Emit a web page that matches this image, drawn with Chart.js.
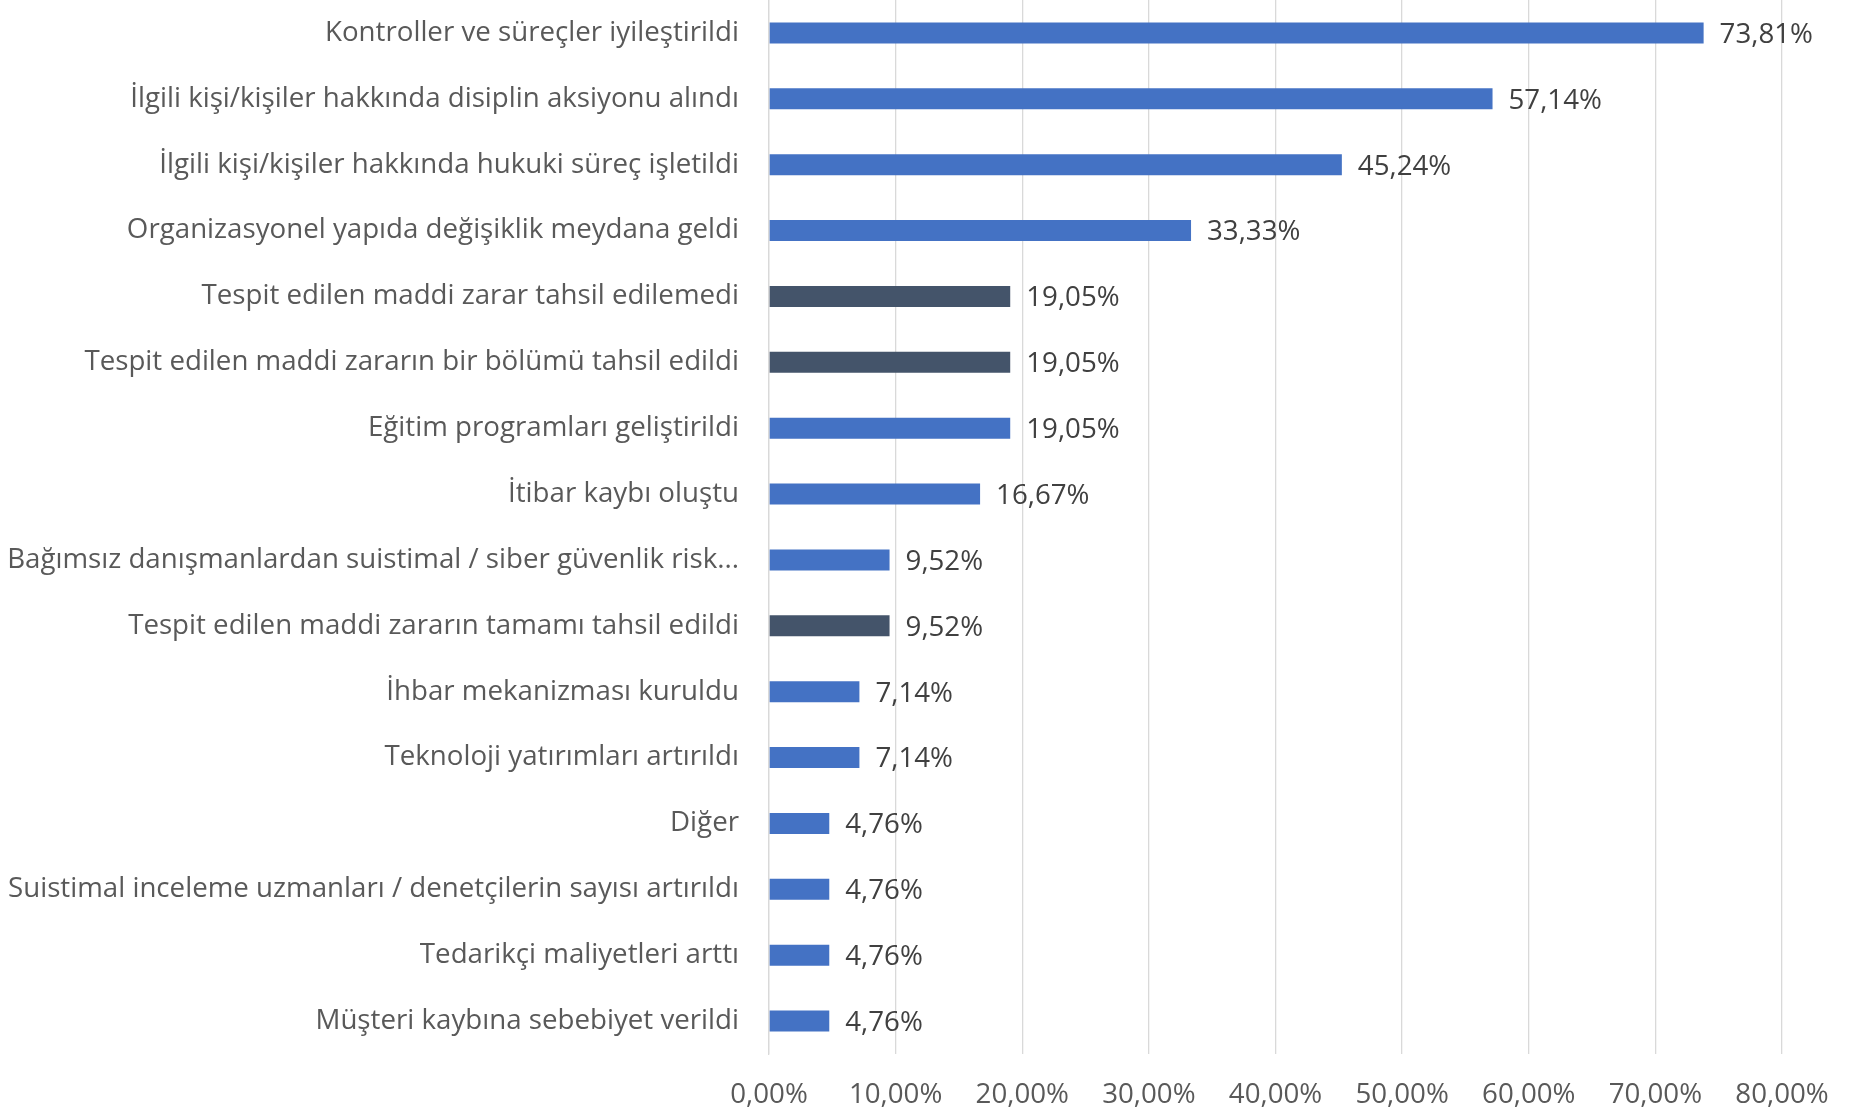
<!DOCTYPE html>
<html>
<head>
<meta charset="utf-8">
<script src="https://cdn.jsdelivr.net/npm/chart.js@4"></script>
<style>
  html, body { margin: 0; padding: 0; background: #fff; }
  #wrap { width: 1858px; height: 1112px; }
</style>
</head>
<body>
<div id="wrap"><canvas id="myChart"></canvas></div>
<script>
const categories = [
  "Kontroller ve süreçler iyileştirildi",
  "İlgili kişi/kişiler hakkında disiplin aksiyonu alındı",
  "İlgili kişi/kişiler hakkında hukuki süreç işletildi",
  "Organizasyonel yapıda değişiklik meydana geldi",
  "Tespit edilen maddi zarar tahsil edilemedi",
  "Tespit edilen maddi zararın bir bölümü tahsil edildi",
  "Eğitim programları geliştirildi",
  "İtibar kaybı oluştu",
  "Bağımsız danışmanlardan suistimal / siber güvenlik risk...",
  "Tespit edilen maddi zararın tamamı tahsil edildi",
  "İhbar mekanizması kuruldu",
  "Teknoloji yatırımları artırıldı",
  "Diğer",
  "Suistimal inceleme uzmanları / denetçilerin sayısı artırıldı",
  "Tedarikçi maliyetleri arttı",
  "Müşteri kaybına sebebiyet verildi"
];
const percentages = [73.81, 57.14, 45.24, 33.33, 19.05, 19.05, 19.05, 16.67, 9.52, 9.52, 7.14, 7.14, 4.76, 4.76, 4.76, 4.76];
// bars about recovered loss are drawn in the darker colour
const darkBars = [false, false, false, false, true, true, false, false, false, true, false, false, false, false, false, false];
const xTicks = [0, 10, 20, 30, 40, 50, 60, 70, 80];

const FONT = "'Open Sans', 'Noto Sans', sans-serif";
const fmt = (v) => v.toFixed(2).replace(".", ",") + "%";

const valueLabels = {
  id: "valueLabels",
  afterDatasetsDraw(chart) {
    const ctx = chart.ctx;
    const meta = chart.getDatasetMeta(0);
    ctx.save();
    ctx.font = "27.7px " + FONT;
    ctx.fillStyle = "#404040";
    ctx.textAlign = "left";
    ctx.textBaseline = "middle";
    meta.data.forEach((bar, i) => {
      ctx.fillText(fmt(percentages[i]), bar.x + 16, bar.y + 2);
    });
    ctx.restore();
  }
};

const ctx = document.getElementById("myChart");
const myChart = new Chart(ctx, {
  type: "bar",
  data: {
    labels: categories,
    datasets: [
      {
        data: percentages,
        backgroundColor: darkBars.map((d) => (d ? "#44546A" : "#4472C4")),
        barPercentage: 0.8,
        categoryPercentage: 0.4,
      },
    ],
  },
  options: {
    indexAxis: "y",
    responsive: true,
    maintainAspectRatio: false,
    animation: false,
    layout: { padding: { top: 0, right: 76, bottom: 0, left: 0 } },
    plugins: { legend: { display: false }, tooltip: { enabled: false } },
    scales: {
      x: {
        min: 0,
        max: 80,
        afterBuildTicks: (scale) => {
          scale.ticks = xTicks.map((v) => ({ value: v }));
        },
        afterFit: (scale) => {
          scale.height = 58;
        },
        grid: { color: "#d9d9d9", lineWidth: 1.3, drawTicks: false },
        border: { display: false },
        ticks: {
          padding: 24,
          color: "#595959",
          font: { family: FONT, size: 27.7 },
          callback: (v) => fmt(v),
        },
      },
      y: {
        afterFit: (scale) => {
          scale.width = 769;
          scale.paddingTop = 0;
          scale.paddingBottom = 0;
        },
        grid: { display: false, drawTicks: false },
        border: { display: true, color: "#d9d9d9", width: 1.3 },
        ticks: {
          padding: 30,
          color: "#595959",
          autoSkip: false,
          font: { family: FONT, size: 27.7 },
        },
      },
    },
  },
  plugins: [valueLabels],
});
</script>
</body>
</html>
